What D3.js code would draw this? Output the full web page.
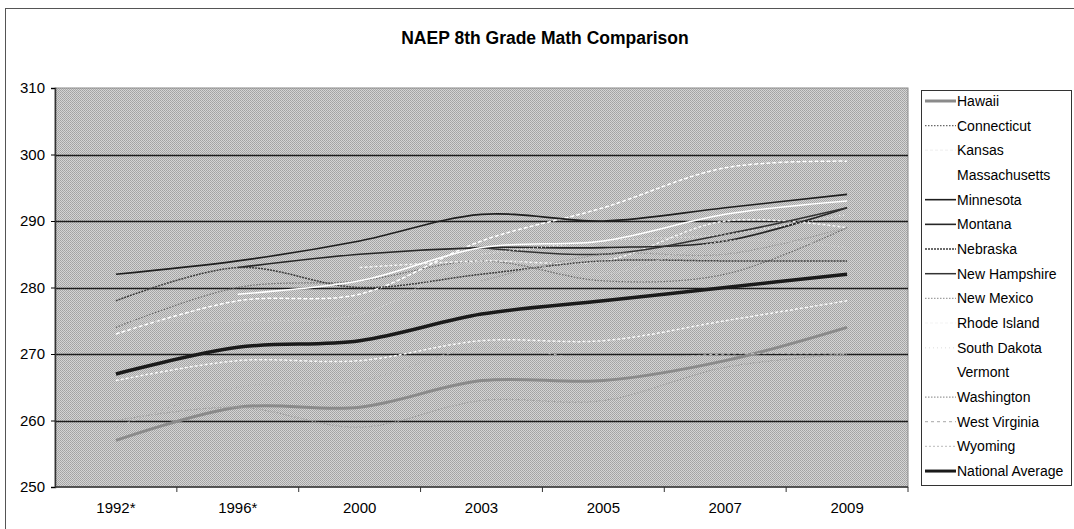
<!DOCTYPE html>
<html>
<head>
<meta charset="utf-8">
<script src="https://cdn.jsdelivr.net/npm/d3@7"></script>
<style>
  body { margin: 0; background: #fff; }
  text { font-family: Arial, "Liberation Sans", sans-serif; fill: #000; }
</style>
</head>
<body>
<div id="chart"></div>
<script>
// Categories and series (NAEP 8th grade math scale scores)
const years = ['1992*', '1996*', '2000', '2003', '2005', '2007', '2009']
const yTicks = [250, 260, 270, 280, 290, 300, 310]

const hawaii = [257, 262, 262, 266, 266, 269, 274]
const connecticut = [274, 280, 281, 284, 281, 282, 289]
const kansas = [null, null, 283, 284, 284, 290, 289]
const massachusetts = [273, 278, 279, 287, 292, 298, 299]
const minnesota = [282, 284, 287, 291, 290, 292, 294]
const montana = [null, 283, 285, 286, 286, 287, 292]
const nebraska = [278, 283, 280, 282, 284, 284, 284]
const newHampshire = [278, null, null, 286, 285, 288, 292]
const newMexico = [260, 262, 259, 263, 263, 268, 270]
const rhodeIsland = [266, 269, 269, 272, 272, 275, 278]
const southDakota = [null, null, null, 285, 287, 288, 291]
const vermont = [null, 279, 281, 286, 287, 291, 293]
const washington = [null, 276, null, 281, 285, 285, 289]
const westVirginia = [259, 265, 266, 271, 269, 270, 270]
const wyoming = [275, 275, 276, 284, 282, 287, 286]
const nationalAverage = [267, 271, 272, 276, 278, 280, 282]

const seriesNames = ['Hawaii', 'Connecticut', 'Kansas', 'Massachusetts', 'Minnesota', 'Montana',
  'Nebraska', 'New Hampshire', 'New Mexico', 'Rhode Island', 'South Dakota', 'Vermont',
  'Washington', 'West Virginia', 'Wyoming', 'National Average']
const seriesValues = [hawaii, connecticut, kansas, massachusetts, minnesota, montana,
  nebraska, newHampshire, newMexico, rhodeIsland, southDakota, vermont,
  washington, westVirginia, wyoming, nationalAverage]

// grayscale look of the scanned chart
const styles = [
  { c: '#8a8a8a', w: 3, d: null },
  { c: '#6a6a6a', w: 1.2, d: '1.5,1.5' },
  { c: '#f4f4f4', w: 1.5, d: '3,2' },
  { c: '#ffffff', w: 1.5, d: '4,2' },
  { c: '#1e1e1e', w: 1.6, d: null },
  { c: '#262626', w: 1.6, d: null },
  { c: '#3c3c3c', w: 1.5, d: '2,1' },
  { c: '#333333', w: 1.5, d: null },
  { c: '#a0a0a0', w: 1.2, d: '1.5,1.5' },
  { c: '#f8f8f8', w: 1.5, d: '3,2' },
  { c: '#e8e8e8', w: 1.5, d: '1,3' },
  { c: '#ffffff', w: 1.5, d: null },
  { c: '#9a9a9a', w: 1.2, d: '1.5,1.5' },
  { c: '#b8b8b8', w: 1.2, d: '3,3' },
  { c: '#c8c8c8', w: 1.2, d: '2,2' },
  { c: '#1a1a1a', w: 3.5, d: null }
]

const width = 1074, height = 529
const plot = { left: 55, right: 908, top: 88, bottom: 487 }

let svg = d3.select('#chart')
  .append('svg')
  .attr('width', width)
  .attr('height', height)

// halftone-like texture for the plot area
let defs = svg.append('defs')
let pat = defs.append('pattern')
  .attr('id', 'dither')
  .attr('width', 2).attr('height', 2)
  .attr('patternUnits', 'userSpaceOnUse')
pat.append('rect').attr('width', 2).attr('height', 2).attr('fill', '#d4d4d4')
pat.append('rect').attr('width', 1).attr('height', 1).attr('fill', '#a2a2a2')
pat.append('rect').attr('x', 1).attr('y', 1).attr('width', 1).attr('height', 1).attr('fill', '#aaaaaa')

// outer frame
svg.append('rect')
  .attr('x', 5.5).attr('y', 8.5)
  .attr('width', 1080).attr('height', 530)
  .attr('fill', 'none')
  .attr('stroke', '#555')

svg.append('text')
  .attr('x', 545).attr('y', 44)
  .attr('text-anchor', 'middle')
  .style('font-size', '17.5px')
  .style('font-weight', 'bold')
  .text('NAEP 8th Grade Math Comparison')

const xScale = d3.scaleBand()
  .domain(years)
  .range([plot.left, plot.right])

const yScale = d3.scaleLinear()
  .domain([250, 310])
  .range([plot.bottom, plot.top])

svg.append('rect')
  .attr('x', plot.left).attr('y', plot.top)
  .attr('width', plot.right - plot.left)
  .attr('height', plot.bottom - plot.top)
  .attr('fill', 'url(#dither)')
  .attr('stroke', '#8a8a8a')

// gridlines
svg.append('g')
  .selectAll('line')
  .data(yTicks.filter(t => t > 250 && t < 310))
  .enter()
  .append('line')
  .attr('x1', plot.left).attr('x2', plot.right)
  .attr('y1', d => Math.round(yScale(d)) + 0.5)
  .attr('y2', d => Math.round(yScale(d)) + 0.5)
  .attr('stroke', '#1c1c1c')
  .attr('stroke-width', 1.3)

// axes
let yAxis = svg.append('g')
  .attr('transform', `translate(${plot.left},0)`)
  .call(d3.axisLeft(yScale).tickValues(yTicks).tickSize(4).tickPadding(6))
yAxis.select('.domain').attr('stroke', '#333').attr('stroke-width', 1.5)
yAxis.selectAll('text').style('font-size', '15px')

let xAxis = svg.append('g')
  .attr('transform', `translate(0,${plot.bottom})`)
xAxis.append('line')
  .attr('x1', plot.left).attr('x2', plot.right)
  .attr('stroke', '#333').attr('stroke-width', 1.5)
xAxis.selectAll('line.tick')
  .data(years.slice(1).concat(['end']))
  .enter()
  .append('line')
  .attr('class', 'tick')
  .attr('x1', d => d === 'end' ? plot.right : xScale(d))
  .attr('x2', d => d === 'end' ? plot.right : xScale(d))
  .attr('y1', 0).attr('y2', 5)
  .attr('stroke', '#333')
xAxis.selectAll('text')
  .data(years)
  .enter()
  .append('text')
  .attr('x', d => xScale(d) + xScale.bandwidth() / 2)
  .attr('y', 26)
  .attr('text-anchor', 'middle')
  .style('font-size', '15px')
  .text(d => d)

// series lines
const line = d3.line()
  .defined(d => d.v !== null)
  .x(d => xScale(d.year) + xScale.bandwidth() / 2)
  .y(d => yScale(d.v))
  .curve(d3.curveCatmullRom.alpha(0.5))

svg.append('g')
  .selectAll('path')
  .data(seriesValues.map((vals, i) => ({ i, pts: vals.map((v, j) => ({ year: years[j], v })) })))
  .enter()
  .append('path')
  .attr('d', d => line(d.pts))
  .attr('fill', 'none')
  .attr('stroke', d => styles[d.i].c)
  .attr('stroke-width', d => styles[d.i].w)
  .attr('stroke-dasharray', d => styles[d.i].d)

// legend
const legend = { x: 921, y: 90, w: 150, h: 395, step: 24.67 }
svg.append('rect')
  .attr('x', legend.x + 0.5).attr('y', legend.y + 0.5)
  .attr('width', legend.w).attr('height', legend.h)
  .attr('fill', '#fff')
  .attr('stroke', '#333')

let items = svg.append('g')
  .selectAll('g')
  .data(seriesNames)
  .enter()
  .append('g')
  .attr('transform', (d, i) => `translate(${legend.x}, ${legend.y + 16 + i * legend.step})`)

items.append('line')
  .attr('x1', 4).attr('x2', 35)
  .attr('y1', -5).attr('y2', -5)
  .attr('stroke', (d, i) => styles[i].c)
  .attr('stroke-width', (d, i) => Math.min(styles[i].w, 3))
  .attr('stroke-dasharray', (d, i) => styles[i].d)

items.append('text')
  .attr('x', 36)
  .attr('y', 0)
  .style('font-size', '14px')
  .text(d => d)
</script>
</body>
</html>
